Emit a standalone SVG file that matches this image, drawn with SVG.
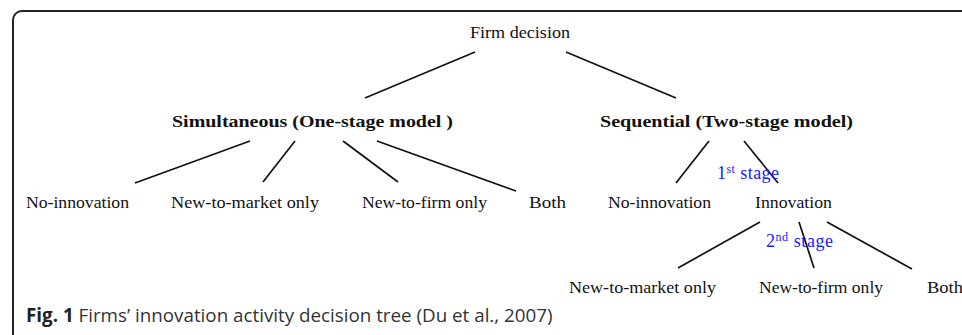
<svg xmlns="http://www.w3.org/2000/svg" width="962" height="335" viewBox="0 0 962 335">
<style>
.t{font-family:"Liberation Serif","Times New Roman",serif;font-size:17px;fill:#111}
.b{font-family:"Liberation Serif","Times New Roman",serif;font-size:17px;font-weight:bold;fill:#111}
.s{font-family:"Liberation Serif","Times New Roman",serif;font-size:18px;fill:#1a1aff}
.sup{font-size:12px}
.c{font-family:"Open Sans","Noto Sans",sans-serif;font-size:18.8px;fill:#333}
.e{stroke:#111;stroke-width:1.7;fill:none}
</style>
<rect width="962" height="335" fill="#fff"/>
<path d="M13 335 L13 20 A9 9 0 0 1 22 11 L962 11" fill="none" stroke="#222" stroke-width="2"/>
<g id="connectors">
<line class="e" x1="475" y1="52" x2="365" y2="98"/>
<line class="e" x1="566" y1="52" x2="676" y2="98"/>
<line class="e" x1="250" y1="141" x2="135" y2="183"/>
<line class="e" x1="295" y1="141" x2="263" y2="182"/>
<line class="e" x1="343" y1="141" x2="398" y2="182"/>
<line class="e" x1="377" y1="141" x2="516" y2="191"/>
<line class="e" x1="709" y1="141" x2="676" y2="183"/>
<line class="e" x1="744" y1="141" x2="778" y2="183"/>
<line class="e" x1="760" y1="222" x2="678" y2="268"/>
<line class="e" x1="799" y1="222" x2="814" y2="268"/>
<line class="e" x1="827" y1="222" x2="912" y2="269"/>
</g>
<g id="firm"><text class="t" x="470" y="38" textLength="100" lengthAdjust="spacingAndGlyphs">Firm decision</text></g>
<g id="simultaneous"><text class="b" x="172" y="127" textLength="281" lengthAdjust="spacingAndGlyphs">Simultaneous (One-stage model )</text></g>
<g id="sequential"><text class="b" x="600" y="127" textLength="253" lengthAdjust="spacingAndGlyphs">Sequential (Two-stage model)</text></g>
<g id="sim-noinnov"><text class="t" x="26" y="208" textLength="103" lengthAdjust="spacingAndGlyphs">No-innovation</text></g>
<g id="sim-ntm"><text class="t" x="171" y="208" textLength="148" lengthAdjust="spacingAndGlyphs">New-to-market only</text></g>
<g id="sim-ntf"><text class="t" x="362" y="208" textLength="125" lengthAdjust="spacingAndGlyphs">New-to-firm only</text></g>
<g id="sim-both"><text class="t" x="529" y="208" textLength="37" lengthAdjust="spacingAndGlyphs">Both</text></g>
<g id="seq-noinnov"><text class="t" x="608" y="208" textLength="103" lengthAdjust="spacingAndGlyphs">No-innovation</text></g>
<g id="seq-innov"><text class="t" x="755" y="208" textLength="77" lengthAdjust="spacingAndGlyphs">Innovation</text></g>
<g id="seq-ntm"><text class="t" x="569" y="293" textLength="147" lengthAdjust="spacingAndGlyphs">New-to-market only</text></g>
<g id="seq-ntf"><text class="t" x="759" y="293" textLength="124" lengthAdjust="spacingAndGlyphs">New-to-firm only</text></g>
<g id="seq-both"><text class="t" x="927" y="293" textLength="36" lengthAdjust="spacingAndGlyphs">Both</text></g>
<g id="stage1"><text class="s" x="717" y="179" textLength="62" lengthAdjust="spacing">1<tspan class="sup" dy="-6">st</tspan><tspan dy="6"> stage</tspan></text></g>
<g id="stage2"><text class="s" x="766" y="247" textLength="67" lengthAdjust="spacing">2<tspan class="sup" dy="-6">nd</tspan><tspan dy="6"> stage</tspan></text></g>
<g id="caption"><text class="c" x="26" y="322"><tspan font-weight="bold" fill="#222">Fig. 1</tspan> Firms’ innovation activity decision tree (Du et al., 2007)</text></g>
</svg>
